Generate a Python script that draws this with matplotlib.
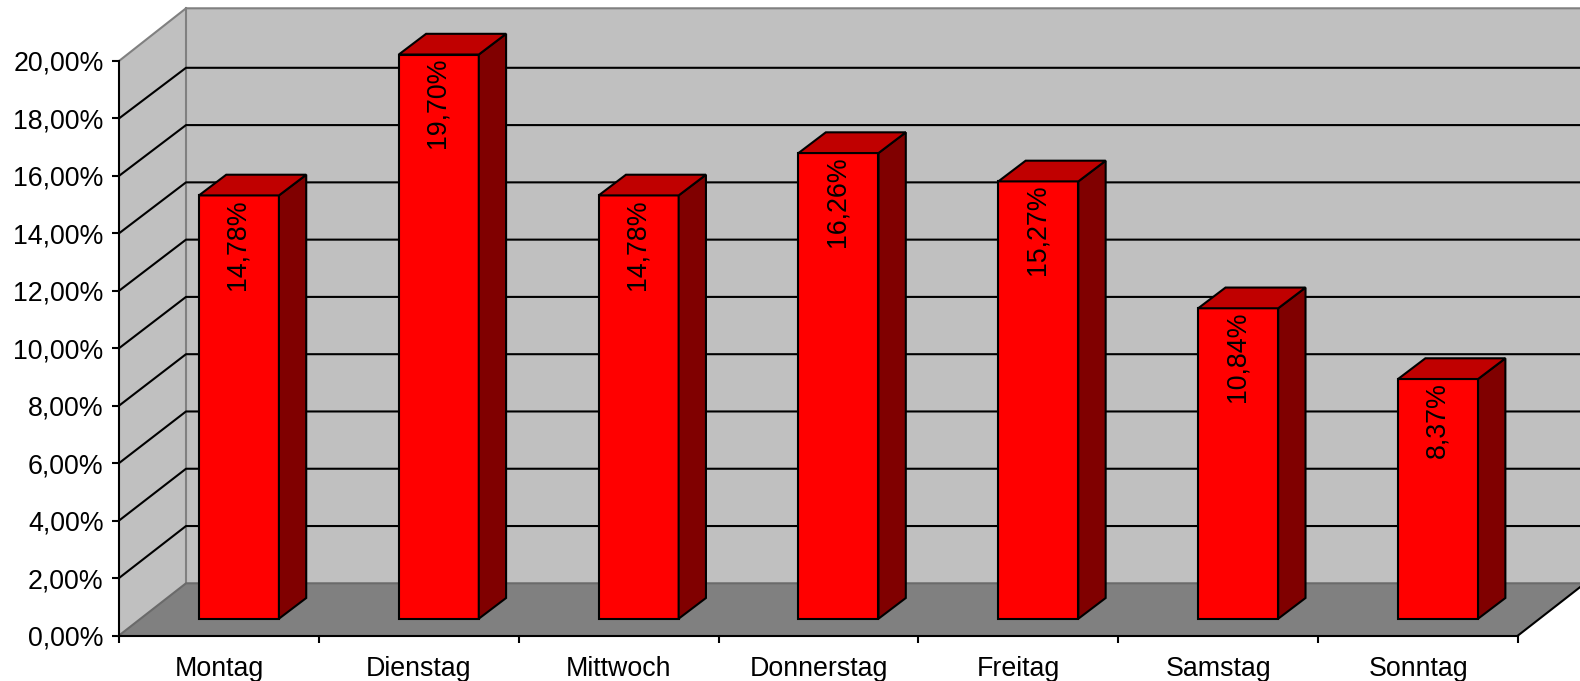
import numpy as np
import matplotlib
matplotlib.use('Agg')
import matplotlib.pyplot as plt

days = ['Montag', 'Dienstag', 'Mittwoch', 'Donnerstag', 'Freitag', 'Samstag', 'Sonntag']
values = [14.78, 19.70, 14.78, 16.26, 15.27, 10.84, 8.37]
y_ticks = [0, 2, 4, 6, 8, 10, 12, 14, 16, 18, 20]

W, H = 1580, 681
# front plane of the fake 3d box, in pixels
LEFT, RIGHT, Y0, Y20 = 119, 1518, 635.5, 61
LW = 1.5

plt.rcParams['font.family'] = ['Liberation Sans', 'DejaVu Sans']

fig = plt.figure(figsize=(W / 100, H / 100), dpi=100)
ax = fig.add_axes([LEFT / W, (H - Y0) / H, (RIGHT - LEFT) / W, (Y0 - Y20) / H])
ax.patch.set_visible(False)
n = len(days)
ax.set_xlim(0, n)
ax.set_ylim(0, 20)

# pixels -> data units
px_x = n / (RIGHT - LEFT)
px_y = 20 / (Y0 - Y20)
DX, DY = 67 * px_x, 52.2 * px_y      # depth of the box
TOP = 20 + 52.7 * px_y               # upper edge of the back wall
BAR_W = 80 * px_x
BAR_DX, BAR_DY = 27.3 * px_x, 20.7 * px_y   # depth of a bar
SHIFT_X, SHIFT_Y = 20 * px_x, 16.8 * px_y   # bar front relative to the box front
SQUEEZE = 0.997   # back planes come out a touch shorter than the front axis

# walls and floor
ax.fill([0, DX, DX, 0], [0, DY, TOP, 20], color='#C0C0C0', zorder=1, clip_on=False, lw=0)
ax.fill([DX, n + DX, n + DX, DX], [DY, DY, TOP, TOP], color='#C0C0C0', zorder=1, clip_on=False, lw=0)
ax.plot([0, DX, n + DX], [20, TOP, TOP], color='#808080', lw=LW, zorder=1.2, clip_on=False)
ax.plot([DX, DX], [DY, TOP], color='#808080', lw=LW, zorder=1.2, clip_on=False)

# gridlines on both walls
for t in y_ticks[1:-1]:
    ax.plot([0, DX, n + DX], [t, t * SQUEEZE + DY, t * SQUEEZE + DY], color='black', lw=LW,
            zorder=1.5, clip_on=False)

ax.fill([0, n, n + DX, DX], [0, 0, DY, DY], color='#808080', zorder=2, clip_on=False, lw=0)
ax.plot([0, DX, n + DX], [0, DY, DY], color='#6A6A6A', lw=LW, zorder=2.1, clip_on=False)
ax.plot([n, n + DX], [0, DY], color='black', lw=LW, zorder=2.1, clip_on=False)

# bars
x = np.arange(n) + 0.5 + SHIFT_X
heights = np.array(values) * SQUEEZE
bars = ax.bar(x, heights, width=BAR_W, bottom=SHIFT_Y, color='#FF0000', edgecolor='black',
              linewidth=LW, zorder=3, clip_on=False)
for b, v in zip(bars, values):
    x0, x1 = b.get_x(), b.get_x() + b.get_width()
    y0, y1 = b.get_y(), b.get_y() + b.get_height()
    ax.fill([x1, x1 + BAR_DX, x1 + BAR_DX, x1], [y0, y0 + BAR_DY, y1 + BAR_DY, y1],
            facecolor='#800000', edgecolor='black', lw=LW, zorder=3, clip_on=False)
    ax.fill([x0, x1, x1 + BAR_DX, x0 + BAR_DX], [y1, y1, y1 + BAR_DY, y1 + BAR_DY],
            facecolor='#C00000', edgecolor='black', lw=LW, zorder=3, clip_on=False)
    ax.annotate(f'{v:.2f}%'.replace('.', ','), ((x0 + x1) / 2, y1), xytext=(-0.8, -2.5),
                textcoords='offset points', rotation=90, ha='center', va='top',
                fontsize=19.3, color='black', zorder=4, annotation_clip=False)

# axes
for s in ['top', 'right']:
    ax.spines[s].set_visible(False)
for s in ['left', 'bottom']:
    ax.spines[s].set_linewidth(LW)
    ax.spines[s].set_zorder(3)
ax.set_yticks(y_ticks)
ax.set_yticklabels([f'{t},00%' for t in y_ticks], fontsize=19.3)
ax.tick_params(axis='y', length=5, width=LW, pad=6)
ax.set_xticks(np.arange(n + 1))
ax.set_xticklabels([])
ax.tick_params(axis='x', which='major', length=5, width=LW)
ax.set_xticks(np.arange(n) + 0.5, minor=True)
ax.set_xticklabels(days, minor=True, fontsize=19.3)
ax.tick_params(axis='x', which='minor', length=0, pad=14.5)

fig.savefig('out.png', dpi=100)
